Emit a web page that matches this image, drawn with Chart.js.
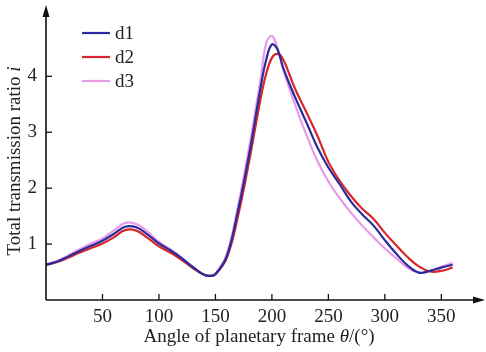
<!DOCTYPE html>
<html><head><meta charset="utf-8">
<script src="https://cdn.jsdelivr.net/npm/chart.js@4/dist/chart.umd.min.js"></script>
<style>html,body{margin:0;padding:0;background:#fff}#wrap{width:486px;height:352px;position:relative}</style>
</head><body><div id="wrap"><canvas id="c" width="486" height="352"></canvas></div>
<script>
const angles = [0,10,20,30,40,50,60,70,80,90,100,110,120,130,140,145,150,160,170,180,190,195,200,205,210,220,230,240,250,260,270,280,290,300,310,320,330,340,350,360];
const d1 = [0.63,0.69,0.78,0.88,0.97,1.06,1.18,1.31,1.30,1.17,1.01,0.89,0.75,0.59,0.45,0.43,0.46,0.78,1.6,2.62,3.8,4.3,4.57,4.48,4.15,3.65,3.2,2.74,2.37,2.07,1.76,1.53,1.33,1.07,0.83,0.62,0.49,0.52,0.58,0.63];
const d2 = [0.63,0.68,0.76,0.85,0.93,1.01,1.12,1.25,1.24,1.11,0.96,0.85,0.72,0.57,0.45,0.43,0.46,0.75,1.5,2.5,3.6,4.05,4.33,4.4,4.3,3.8,3.38,2.95,2.47,2.13,1.86,1.63,1.45,1.2,0.98,0.77,0.6,0.51,0.52,0.58];
const d3 = [0.63,0.70,0.80,0.91,1.01,1.10,1.24,1.38,1.36,1.22,1.04,0.91,0.76,0.59,0.45,0.43,0.47,0.82,1.68,2.75,3.95,4.6,4.72,4.5,4.12,3.52,2.98,2.5,2.12,1.82,1.56,1.33,1.12,0.92,0.75,0.58,0.49,0.52,0.6,0.66];
const seriesNames = ['d1','d2','d3'];
const xTicks = [50,100,150,200,250,300,350];
const yTicks = [1,2,3,4];
const xTitle = ['Angle of planetary frame ', 'θ', '/(°)'];
const yTitle = ['Total transmission ratio ', 'i'];

const colors = ['#2b2b9c','#d8262a','#e79be9'];
const FONT = '"Liberation Serif","Times New Roman",serif';
const FS = 19;
const toPts = arr => angles.map((a,i)=>({x:a,y:arr[i]}));

const axesPlugin = {
  id:'axesPlugin',
  afterDraw(chart){
    const ctx = chart.ctx, xs = chart.scales.x, ys = chart.scales.y;
    ctx.save();
    ctx.strokeStyle = '#111'; ctx.fillStyle = '#111'; ctx.lineWidth = 1.6;
    const x0 = xs.getPixelForValue(0), y0 = ys.getPixelForValue(0);
    ctx.beginPath(); ctx.moveTo(x0, y0); ctx.lineTo(x0, 14); ctx.stroke();
    ctx.beginPath(); ctx.moveTo(x0, y0); ctx.lineTo(480, y0); ctx.stroke();
    ctx.beginPath(); ctx.moveTo(x0, 5); ctx.lineTo(x0-3.5, 17); ctx.lineTo(x0+3.5, 17); ctx.closePath(); ctx.fill();
    ctx.beginPath(); ctx.moveTo(485, y0); ctx.lineTo(473, y0-3.5); ctx.lineTo(473, y0+3.5); ctx.closePath(); ctx.fill();
    ctx.lineWidth = 1.3;
    xTicks.forEach(v=>{const p = xs.getPixelForValue(v); ctx.beginPath(); ctx.moveTo(p, y0); ctx.lineTo(p, y0-6); ctx.stroke();});
    yTicks.forEach(v=>{const p = ys.getPixelForValue(v); ctx.beginPath(); ctx.moveTo(x0, p); ctx.lineTo(x0+6, p); ctx.stroke();});
    ctx.lineWidth = 2.2;
    const ly = [33,57,81];
    chart.data.datasets.forEach((ds,i)=>{
      ctx.strokeStyle = ds.borderColor;
      ctx.beginPath(); ctx.moveTo(82, ly[i]); ctx.lineTo(110, ly[i]); ctx.stroke();
      ctx.fillStyle = '#222'; ctx.font = FS+'px '+FONT; ctx.textBaseline='middle'; ctx.textAlign='left';
      ctx.fillText(ds.label, 115, ly[i]+1);
    });
    ctx.fillStyle = '#222'; ctx.textBaseline = 'middle';
    const fonts = [FS+'px '+FONT, 'italic '+FS+'px '+FONT, FS+'px '+FONT];
    let total = 0;
    xTitle.forEach((t,i)=>{ctx.font = fonts[i]; total += ctx.measureText(t).width;});
    let cx = 259 - total/2;
    xTitle.forEach((t,i)=>{ctx.font = fonts[i]; ctx.textAlign='left'; ctx.fillText(t, cx, 337); cx += ctx.measureText(t).width;});
    ctx.translate(15, 161); ctx.rotate(-Math.PI/2);
    const yf = [FS+'px '+FONT, 'italic '+FS+'px '+FONT];
    total = 0;
    yTitle.forEach((t,i)=>{ctx.font = yf[i]; total += ctx.measureText(t).width;});
    cx = -total/2;
    yTitle.forEach((t,i)=>{ctx.font = yf[i]; ctx.textAlign='left'; ctx.fillText(t, cx, 0); cx += ctx.measureText(t).width;});
    ctx.restore();
  }
};

new Chart(document.getElementById('c'), {
  type:'line',
  data:{datasets:[
    {label:seriesNames[0], data:toPts(d1), borderColor:colors[0], order:1},
    {label:seriesNames[1], data:toPts(d2), borderColor:colors[1], order:2},
    {label:seriesNames[2], data:toPts(d3), borderColor:colors[2], order:3}
  ]},
  options:{
    responsive:false, animation:false, devicePixelRatio:1,
    layout:{padding:{left:0,right:4,top:10,bottom:0}},
    elements:{point:{radius:0}, line:{borderWidth:2.2, tension:0.4, fill:false}},
    plugins:{legend:{display:false}, tooltip:{enabled:false}},
    scales:{
      x:{type:'linear', min:0, max:386,
        afterFit(s){s.height = 52;},
        afterBuildTicks(s){s.ticks = xTicks.map(v=>({value:v}));},
        grid:{display:false, drawTicks:false}, border:{display:false},
        ticks:{padding:6, font:{family:FONT, size:FS}, color:'#222', maxRotation:0, autoSkip:false}},
      y:{type:'linear', min:0, max:5,
        afterFit(s){s.width = 46;},
        afterBuildTicks(s){s.ticks = yTicks.map(v=>({value:v}));},
        grid:{display:false, drawTicks:false}, border:{display:false},
        ticks:{padding:9, font:{family:FONT, size:FS}, color:'#222'}}
    }
  },
  plugins:[axesPlugin]
});
</script></body></html>
